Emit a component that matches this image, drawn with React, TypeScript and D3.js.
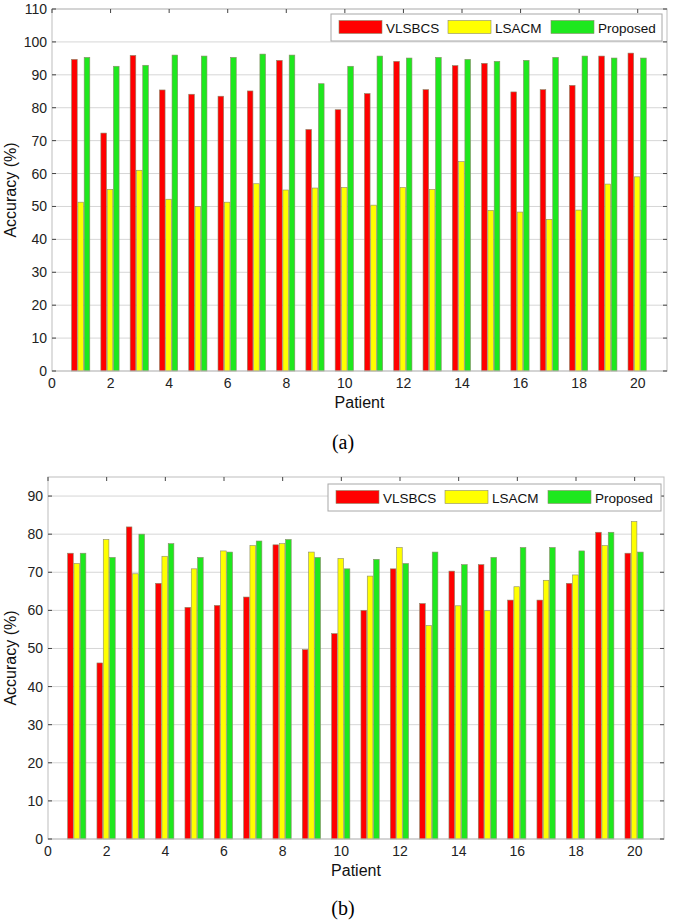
import React from "react";
import * as d3 from "d3";

const patients = d3.range(1, 21);
const seriesNames = ["VLSBCS", "LSACM", "Proposed"];
const seriesColors = ["#ff0000", "#ffff00", "#1ee81e"];

// (a)
const aVLSBCS = [94.7, 72.3, 95.9, 85.4, 84.1, 83.5, 85.1, 94.4, 73.4, 79.4, 84.3, 94.1, 85.5, 92.8, 93.5, 84.8, 85.5, 86.8, 95.7, 96.6];
const aLSACM = [51.3, 55.2, 61.0, 52.2, 50.0, 51.3, 56.9, 55.0, 55.6, 55.8, 50.4, 55.8, 55.2, 63.6, 48.8, 48.3, 46.1, 48.9, 56.8, 59.0];
const aProposed = [95.3, 92.6, 92.9, 96.0, 95.7, 95.3, 96.3, 96.0, 87.3, 92.6, 95.7, 95.1, 95.3, 94.7, 94.1, 94.4, 95.3, 95.7, 95.1, 95.1];

// (b)
const bVLSBCS = [75.0, 46.2, 81.9, 67.1, 60.8, 61.3, 63.5, 77.2, 49.7, 53.9, 60.0, 70.9, 61.8, 70.3, 72.0, 62.7, 62.7, 67.1, 80.5, 75.0];
const bLSACM = [72.3, 78.6, 69.6, 74.2, 70.9, 75.6, 77.0, 77.5, 75.3, 73.6, 69.0, 76.5, 56.0, 61.2, 59.9, 66.2, 67.9, 69.3, 77.0, 83.3];
const bProposed = [75.0, 73.9, 80.0, 77.5, 73.9, 75.3, 78.2, 78.6, 73.9, 70.9, 73.4, 72.3, 75.3, 72.0, 73.9, 76.5, 76.5, 75.6, 80.5, 75.3];

const xTicks = d3.range(0, 21, 2);
const aYTicks = d3.range(0, 111, 10);
const bYTicks = d3.range(0, 91, 10);

const SANS = "'Liberation Sans', Arial, sans-serif";
const SERIF = "'Liberation Serif', 'Times New Roman', serif";

type ChartProps = {
  series: number[][];
  yMax: number;
  yTicks: number[];
  left: number;
  right: number;
  top: number;
  bottom: number;
  legend: { x: number; y: number; w: number; h: number };
  caption: string;
  captionY: number;
};

function Chart(p: ChartProps) {
  const x = d3.scaleLinear().domain([0, 21]).range([p.left, p.right]);
  const y = d3.scaleLinear().domain([0, p.yMax]).range([p.bottom, p.top]);
  const slot = 0.215;
  const bw = 0.192;
  const tl = 4;
  const frame = "#bdbdbd";
  const tickCol = "#444";
  return (
    <g>
      {/* grid */}
      {p.yTicks.map((t) => (
        <line key={"g" + t} x1={p.left} x2={p.right} y1={y(t)} y2={y(t)} stroke="#d6d6d6" strokeWidth={1} />
      ))}
      {/* bars */}
      {p.series.map((vals, si) =>
        vals.map((v, i) => {
          const cx = patients[i] - 0.02 + (si - 1) * slot;
          const x0 = x(cx - bw / 2);
          const x1 = x(cx + bw / 2);
          return (
            <rect
              key={si + "-" + i}
              x={x0}
              y={y(v)}
              width={x1 - x0}
              height={y(0) - y(v)}
              fill={seriesColors[si]}
              stroke="#8a8a6a"
              strokeWidth={0.6}
            />
          );
        })
      )}
      {/* frame */}
      <rect x={p.left} y={p.top} width={p.right - p.left} height={p.bottom - p.top} fill="none" stroke={frame} strokeWidth={1} />
      {/* ticks */}
      {p.yTicks.map((t) => (
        <g key={"yt" + t}>
          <line x1={p.left} x2={p.left + tl} y1={y(t)} y2={y(t)} stroke={tickCol} strokeWidth={1} />
          <line x1={p.right} x2={p.right - tl} y1={y(t)} y2={y(t)} stroke={tickCol} strokeWidth={1} />
          <text x={p.left - 5} y={y(t) + 5} textAnchor="end" fontFamily={SANS} fontSize={14} fill="#222">
            {t}
          </text>
        </g>
      ))}
      {xTicks.map((t) => (
        <g key={"xt" + t}>
          <line x1={x(t)} x2={x(t)} y1={p.top} y2={p.top + tl} stroke={tickCol} strokeWidth={1} />
          <text x={x(t)} y={p.bottom + 17} textAnchor="middle" fontFamily={SANS} fontSize={14} fill="#222">
            {t}
          </text>
        </g>
      ))}
      {/* axis labels */}
      <text
        transform={`translate(16,${(p.top + p.bottom) / 2}) rotate(-90)`}
        textAnchor="middle"
        fontFamily={SANS}
        fontSize={16}
        fill="#111"
      >
        Accuracy (%)
      </text>
      <text x={(p.left + p.right) / 2} y={p.bottom + 37} textAnchor="middle" fontFamily={SANS} fontSize={16} fill="#111">
        Patient
      </text>
      {/* legend */}
      <rect x={p.legend.x} y={p.legend.y} width={p.legend.w} height={p.legend.h} fill="#fff" stroke="#a8a8a8" strokeWidth={1} />
      {seriesNames.map((name, si) => {
        const offs = [8, 117, 220][si];
        const sx = p.legend.x + offs;
        const cy = p.legend.y + p.legend.h / 2;
        return (
          <g key={name}>
            <rect x={sx} y={cy - 7} width={43} height={13} fill={seriesColors[si]} stroke="#8a8a6a" strokeWidth={0.6} />
            <text x={sx + 47} y={cy + 5} fontFamily={SANS} fontSize={13.5} fill="#111">
              {name}
            </text>
          </g>
        );
      })}
      {/* caption */}
      <text x={343} y={p.captionY} textAnchor="middle" fontFamily={SERIF} fontSize={20} fill="#000">
        {p.caption}
      </text>
    </g>
  );
}

export default function App() {
  return (
    <svg
      width={675}
      height={924}
      style={{ position: "absolute", left: 0, top: 0, background: "#fff" }}
    >
      <rect x={0} y={0} width={675} height={924} fill="#fff" />
      <Chart
        series={[aVLSBCS, aLSACM, aProposed]}
        yMax={110}
        yTicks={aYTicks}
        left={52}
        right={667}
        top={9}
        bottom={371}
        legend={{ x: 331, y: 14, w: 331, h: 27 }}
        caption="(a)"
        captionY={449}
      />
      <Chart
        series={[bVLSBCS, bLSACM, bProposed]}
        yMax={95}
        yTicks={bYTicks}
        left={48}
        right={664}
        top={477}
        bottom={839}
        legend={{ x: 328, y: 484, w: 333, h: 27 }}
        caption="(b)"
        captionY={915}
      />
    </svg>
  );
}
